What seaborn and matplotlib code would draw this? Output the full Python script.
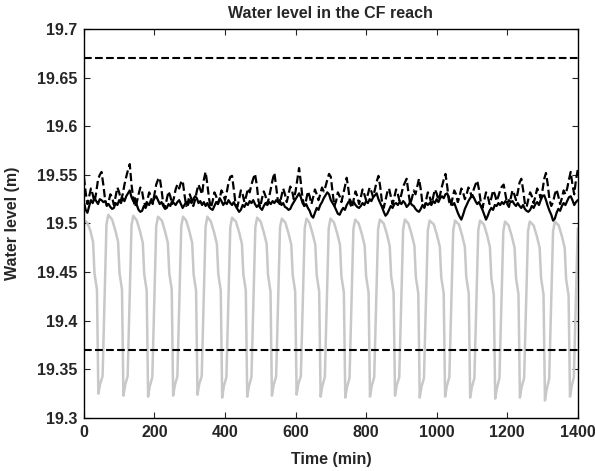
import numpy as np
import pandas as pd
import seaborn as sns
import matplotlib
matplotlib.use("Agg")
import matplotlib.pyplot as plt

# limits drawn as dashed lines
upper_limit = 19.67
lower_limit = 19.37

# gray series: knots, one row per cycle (drop -> next drop)
gray_t = [0, 9, 18, 26, 30, 37,
          41, 46, 53, 64, 69, 80, 89, 97, 101, 108,
          112, 117, 124, 135, 140, 150, 159, 167, 171, 178,
          182, 187, 194, 205, 210, 221, 230, 238, 242, 249,
          253, 258, 265, 276, 281, 290, 299, 307, 311, 318,
          322, 327, 334, 345, 350, 360, 369, 377, 381, 388,
          392, 397, 404, 415, 420, 431, 440, 448, 452, 459,
          463, 468, 475, 486, 491, 501, 510, 518, 522, 529,
          533, 538, 545, 556, 561, 571, 580, 588, 592, 599,
          603, 608, 615, 626, 631, 639, 648, 656, 660, 667,
          671, 676, 683, 694, 699, 709, 718, 726, 730, 737,
          741, 746, 753, 764, 769, 779, 788, 796, 800, 807,
          811, 816, 823, 834, 839, 850, 859, 867, 871, 878,
          882, 887, 894, 905, 910, 920, 929, 937, 941, 948,
          952, 957, 964, 975, 980, 992, 1001, 1009, 1013, 1020,
          1024, 1029, 1036, 1047, 1052, 1063, 1072, 1080, 1084, 1091,
          1095, 1100, 1107, 1118, 1123, 1134, 1143, 1151, 1155, 1162,
          1166, 1171, 1178, 1189, 1194, 1204, 1213, 1221, 1225, 1232,
          1236, 1241, 1248, 1259, 1264, 1275, 1284, 1292, 1296, 1303,
          1307, 1312, 1319, 1330, 1335, 1346, 1355, 1363, 1367, 1374,
          1378, 1383, 1389, 1400]
gray_v = [19.503, 19.501, 19.493, 19.481, 19.449, 19.432,
          19.325, 19.335, 19.343, 19.499, 19.509, 19.504, 19.493, 19.481, 19.449, 19.432,
          19.323, 19.334, 19.343, 19.498, 19.508, 19.503, 19.492, 19.480, 19.448, 19.431,
          19.322, 19.333, 19.342, 19.497, 19.507, 19.503, 19.492, 19.480, 19.449, 19.432,
          19.323, 19.334, 19.343, 19.497, 19.507, 19.503, 19.492, 19.480, 19.448, 19.431,
          19.324, 19.335, 19.343, 19.497, 19.507, 19.502, 19.491, 19.479, 19.448, 19.431,
          19.321, 19.333, 19.342, 19.496, 19.506, 19.502, 19.491, 19.479, 19.448, 19.431,
          19.322, 19.333, 19.342, 19.496, 19.506, 19.502, 19.491, 19.479, 19.447, 19.430,
          19.323, 19.334, 19.343, 19.496, 19.505, 19.501, 19.490, 19.478, 19.447, 19.430,
          19.324, 19.335, 19.343, 19.495, 19.505, 19.501, 19.490, 19.478, 19.447, 19.430,
          19.322, 19.333, 19.342, 19.495, 19.505, 19.501, 19.490, 19.478, 19.446, 19.429,
          19.321, 19.332, 19.341, 19.494, 19.504, 19.500, 19.489, 19.477, 19.446, 19.429,
          19.322, 19.333, 19.342, 19.494, 19.504, 19.500, 19.489, 19.477, 19.446, 19.429,
          19.323, 19.334, 19.342, 19.494, 19.504, 19.500, 19.489, 19.477, 19.445, 19.428,
          19.321, 19.332, 19.341, 19.493, 19.503, 19.499, 19.488, 19.476, 19.445, 19.428,
          19.322, 19.333, 19.342, 19.493, 19.503, 19.499, 19.488, 19.476, 19.445, 19.428,
          19.321, 19.332, 19.341, 19.493, 19.503, 19.499, 19.488, 19.476, 19.444, 19.427,
          19.320, 19.331, 19.341, 19.492, 19.502, 19.498, 19.487, 19.475, 19.444, 19.427,
          19.321, 19.332, 19.341, 19.492, 19.502, 19.498, 19.487, 19.475, 19.444, 19.427,
          19.318, 19.330, 19.340, 19.492, 19.502, 19.498, 19.487, 19.475, 19.443, 19.426,
          19.322, 19.333, 19.342, 19.495]

# black series sampled every 5 min, one row = 70 min
time_5 = list(range(0, 1405, 5))
solid_v = [19.522, 19.514, 19.511, 19.518, 19.524, 19.521, 19.526, 19.523, 19.520, 19.525, 19.524, 19.522, 19.523, 19.519,
           19.520, 19.517, 19.515, 19.516, 19.521, 19.519, 19.524, 19.521, 19.526, 19.523, 19.528, 19.531, 19.534, 19.527,
           19.523, 19.526, 19.519, 19.514, 19.512, 19.513, 19.518, 19.516, 19.521, 19.519, 19.524, 19.522, 19.526, 19.528,
           19.524, 19.520, 19.522, 19.518, 19.515, 19.516, 19.520, 19.518, 19.523, 19.521, 19.519, 19.522, 19.524, 19.520,
           19.516, 19.519, 19.522, 19.519, 19.524, 19.521, 19.525, 19.528, 19.526, 19.521, 19.523, 19.519, 19.522, 19.518,
           19.521, 19.517, 19.515, 19.514, 19.518, 19.522, 19.520, 19.526, 19.523, 19.519, 19.522, 19.520, 19.524, 19.521,
           19.519, 19.522, 19.518, 19.515, 19.512, 19.514, 19.519, 19.517, 19.521, 19.519, 19.523, 19.521, 19.524, 19.520,
           19.517, 19.519, 19.516, 19.514, 19.518, 19.521, 19.519, 19.522, 19.520, 19.523, 19.521, 19.524, 19.522, 19.524,
           19.519, 19.521, 19.517, 19.516, 19.514, 19.515, 19.519, 19.522, 19.525, 19.528, 19.531, 19.527, 19.521, 19.518,
           19.520, 19.516, 19.513, 19.508, 19.506, 19.511, 19.516, 19.514, 19.519, 19.522, 19.526, 19.529, 19.532, 19.530,
           19.524, 19.521, 19.518, 19.514, 19.510, 19.509, 19.513, 19.516, 19.514, 19.519, 19.522, 19.524, 19.520, 19.522,
           19.519, 19.517, 19.516, 19.518, 19.521, 19.519, 19.523, 19.521, 19.525, 19.523, 19.527, 19.529, 19.531, 19.525,
           19.521, 19.517, 19.512, 19.508, 19.510, 19.514, 19.518, 19.516, 19.520, 19.521, 19.519, 19.522, 19.520, 19.523,
           19.521, 19.517, 19.519, 19.522, 19.519, 19.518, 19.515, 19.513, 19.512, 19.515, 19.519, 19.517, 19.521, 19.519,
           19.521, 19.519, 19.523, 19.521, 19.525, 19.522, 19.526, 19.528, 19.526, 19.530, 19.531, 19.526, 19.522, 19.519,
           19.521, 19.516, 19.511, 19.507, 19.504, 19.509, 19.515, 19.519, 19.523, 19.526, 19.529, 19.527, 19.523, 19.520,
           19.522, 19.518, 19.514, 19.509, 19.504, 19.508, 19.513, 19.516, 19.514, 19.519, 19.518, 19.521, 19.519, 19.522,
           19.520, 19.523, 19.521, 19.524, 19.522, 19.523, 19.520, 19.518, 19.521, 19.518, 19.516, 19.519, 19.515, 19.513,
           19.512, 19.514, 19.518, 19.516, 19.520, 19.522, 19.519, 19.524, 19.528, 19.529, 19.524, 19.518, 19.513, 19.509,
           19.503, 19.505, 19.511, 19.515, 19.513, 19.518, 19.521, 19.519, 19.523, 19.527, 19.528, 19.524, 19.519, 19.522,
           19.524]
dashed_v = [19.548, 19.532, 19.520, 19.528, 19.536, 19.530, 19.522, 19.532, 19.545, 19.550, 19.553, 19.540, 19.525, 19.518,
            19.522, 19.530, 19.527, 19.519, 19.528, 19.537, 19.532, 19.524, 19.530, 19.540, 19.548, 19.555, 19.561, 19.540,
            19.525, 19.517, 19.522, 19.530, 19.537, 19.533, 19.522, 19.518, 19.524, 19.532, 19.528, 19.520, 19.530, 19.540,
            19.545, 19.547, 19.535, 19.520, 19.516, 19.525, 19.533, 19.528, 19.520, 19.526, 19.535, 19.540, 19.536, 19.542,
            19.544, 19.530, 19.518, 19.522, 19.530, 19.525, 19.518, 19.524, 19.533, 19.540, 19.535, 19.530, 19.545, 19.553,
            19.540, 19.525, 19.516, 19.523, 19.532, 19.528, 19.520, 19.526, 19.534, 19.530, 19.524, 19.532, 19.542, 19.548,
            19.549, 19.535, 19.520, 19.517, 19.525, 19.534, 19.530, 19.522, 19.528, 19.536, 19.532, 19.540, 19.546, 19.551,
            19.540, 19.523, 19.517, 19.526, 19.533, 19.528, 19.520, 19.527, 19.536, 19.545, 19.552, 19.538, 19.523, 19.520,
            19.528, 19.536, 19.530, 19.522, 19.530, 19.538, 19.534, 19.525, 19.533, 19.545, 19.557, 19.542, 19.525, 19.518,
            19.524, 19.533, 19.528, 19.520, 19.527, 19.535, 19.530, 19.524, 19.530, 19.537, 19.533, 19.538, 19.545, 19.551,
            19.548, 19.532, 19.518, 19.523, 19.532, 19.528, 19.522, 19.530, 19.538, 19.547, 19.535, 19.520, 19.516, 19.525,
            19.533, 19.528, 19.520, 19.527, 19.535, 19.530, 19.524, 19.530, 19.537, 19.533, 19.527, 19.535, 19.543, 19.549,
            19.538, 19.522, 19.516, 19.524, 19.532, 19.536, 19.528, 19.520, 19.527, 19.535, 19.530, 19.523, 19.530, 19.538,
            19.542, 19.546, 19.532, 19.520, 19.526, 19.534, 19.530, 19.538, 19.546, 19.535, 19.520, 19.516, 19.524, 19.532,
            19.528, 19.520, 19.527, 19.535, 19.531, 19.524, 19.530, 19.538, 19.545, 19.551, 19.538, 19.523, 19.518, 19.526,
            19.534, 19.530, 19.522, 19.528, 19.536, 19.532, 19.525, 19.530, 19.537, 19.533, 19.527, 19.535, 19.540, 19.544,
            19.535, 19.522, 19.516, 19.524, 19.532, 19.528, 19.520, 19.526, 19.534, 19.530, 19.523, 19.528, 19.534, 19.538,
            19.540, 19.530, 19.520, 19.517, 19.526, 19.534, 19.530, 19.524, 19.532, 19.542, 19.546, 19.535, 19.521, 19.517,
            19.525, 19.532, 19.528, 19.521, 19.528, 19.536, 19.532, 19.526, 19.534, 19.546, 19.552, 19.540, 19.524, 19.518,
            19.522, 19.530, 19.535, 19.528, 19.520, 19.526, 19.534, 19.530, 19.536, 19.545, 19.553, 19.540, 19.530, 19.545,
            19.555]

gray_df = pd.DataFrame({"t": gray_t, "level": gray_v})
black_df = pd.DataFrame({"t": time_5, "solid": solid_v, "dashed": dashed_v})

sns.set_style("ticks")
plt.rcParams["font.family"] = ["Liberation Sans", "DejaVu Sans"]
plt.rcParams["font.weight"] = "bold"

fig = plt.figure(figsize=(5.95, 4.71), dpi=100)
ax = fig.add_axes([0.141, 0.1125, 0.830, 0.826])

sns.lineplot(data=gray_df, x="t", y="level", color="#c8c8c8", lw=1.8, ax=ax)
sns.lineplot(data=black_df, x="t", y="solid", color="black", lw=1.6, ax=ax)
sns.lineplot(data=black_df, x="t", y="dashed", color="black", lw=1.6,
             linestyle="--", ax=ax)
ax.axhline(upper_limit, color="black", lw=1.5, ls="--")
ax.axhline(lower_limit, color="black", lw=1.5, ls="--")

ax.set_xlim(0, 1400)
ax.set_ylim(19.3, 19.7)
ax.set_xticks(np.arange(0, 1401, 200))
ax.set_yticks([19.3, 19.35, 19.4, 19.45, 19.5, 19.55, 19.6, 19.65, 19.7])
ax.set_yticklabels(["19.3", "19.35", "19.4", "19.45", "19.5", "19.55",
                    "19.6", "19.65", "19.7"])
ax.tick_params(direction="in", length=4, width=0.8, top=True, right=True,
               labelsize=11.5, pad=5)
for s in ax.spines.values():
    s.set_visible(True)
    s.set_linewidth(1.0)
    s.set_color("black")

ax.set_title("Water level in the CF reach", fontsize=11.5, fontweight="bold", pad=8)
ax.set_xlabel("Time (min)", fontsize=11.5, fontweight="bold", labelpad=9)
ax.set_ylabel("Water level (m)", fontsize=11.5, fontweight="bold", labelpad=12)

fig.savefig("out.png", dpi=100)
